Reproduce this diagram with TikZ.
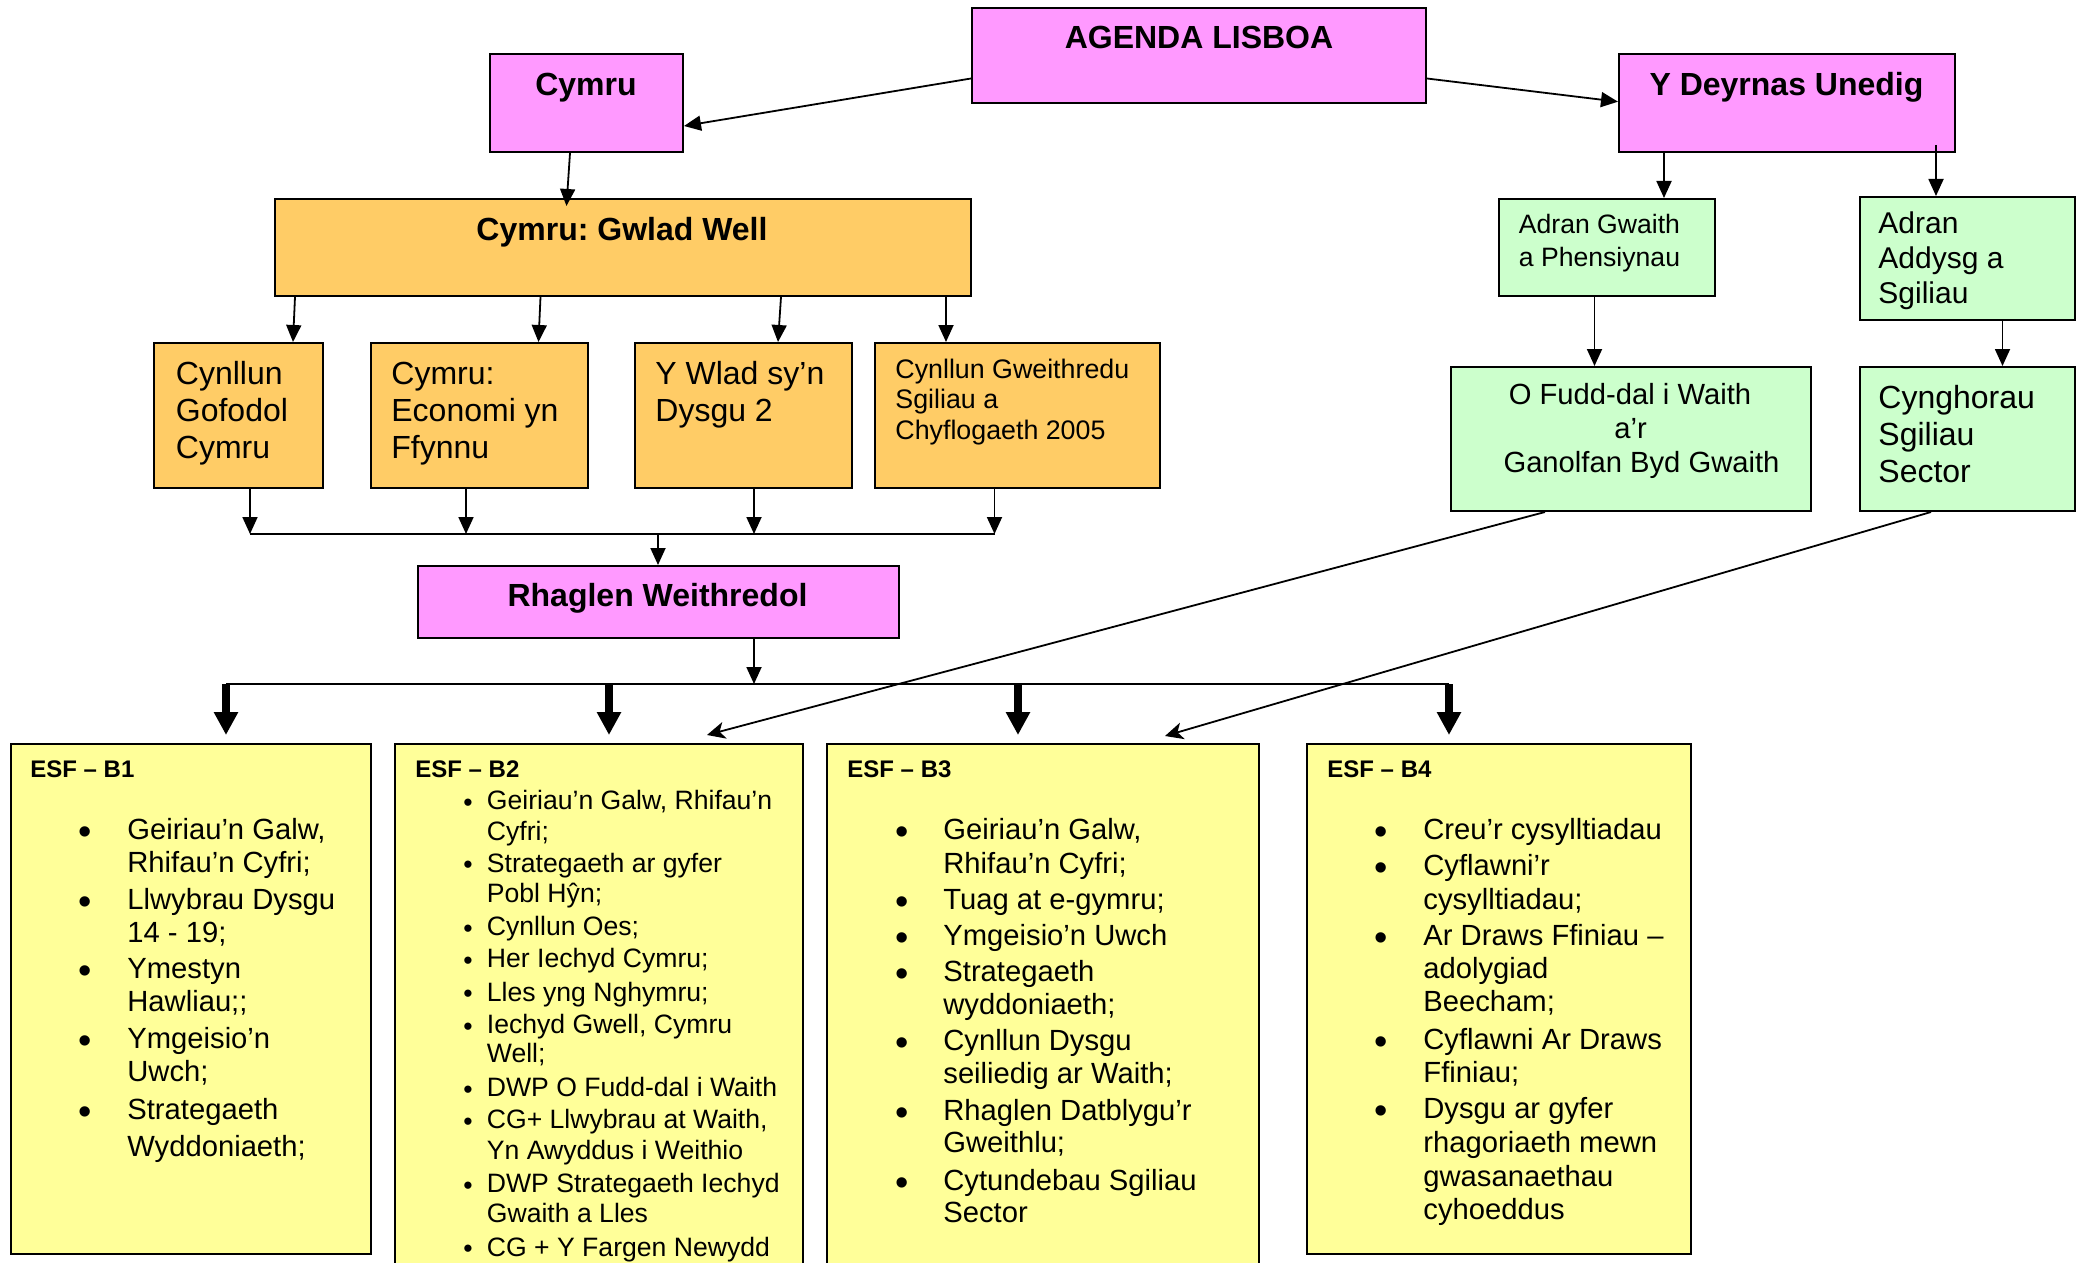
\documentclass[tikz,border=0pt]{standalone}
\usepackage{fontspec}
\setmainfont{Liberation Sans}
\usetikzlibrary{arrows.meta}
\definecolor{pinkc}{RGB}{255,153,255}
\definecolor{orangec}{RGB}{255,204,102}
\definecolor{greenc}{RGB}{204,255,204}
\definecolor{yellowc}{RGB}{255,255,153}
\newcommand\fsz[1]{\fontsize{#1}{#1}\selectfont}
\newcommand\mkbox[6]{\node[#6, minimum width={(#4-#2)*0.5pt}, minimum height={(#5-#3)*0.5pt}] (#1) at (#2,#3) {};}
\frenchspacing
\begin{document}
\frenchspacing
\begin{tikzpicture}[x=0.5pt,y=-0.5pt,
  boxc/.style={draw=black, line width=1pt, inner sep=0pt, anchor=north west},
  pinkbox/.style={boxc, fill=pinkc},
  orangebox/.style={boxc, fill=orangec},
  greenbox/.style={boxc, fill=greenc},
  yellowbox/.style={boxc, fill=yellowc},
  tb/.style={inner sep=0pt, anchor=base, font=\fsz{16}\bfseries},
  tesf/.style={inner sep=0pt, anchor=base west, font=\fsz{12}\bfseries},
  t16/.style={inner sep=0pt, anchor=base west, font=\fsz{16}},
  t15/.style={inner sep=0pt, anchor=base west, font=\fsz{15}},
  t146/.style={inner sep=0pt, anchor=base west, font=\fsz{14.6}},
  t146c/.style={inner sep=0pt, anchor=base, font=\fsz{14.6}},
  t134/.style={inner sep=0pt, anchor=base west, font=\fsz{13.4}},
  t133/.style={inner sep=0pt, anchor=base west, font=\fsz{13.3}},
  bigbul/.style={inner sep=0pt, anchor=base, font=\fsz{19}},
  smallbul/.style={inner sep=0pt, anchor=base, font=\fsz{13.3}},
  conn/.style={line width=0.9pt},
  arr/.style={conn, -{Triangle[length=8.5pt,width=7.5pt]}},
  darr/.style={conn, -{Stealth[length=9pt,width=8.5pt,inset=2.5pt]}},
  tharr/.style={line width=4pt, -{Triangle[length=11.5pt,width=11.5pt]}, shorten >=4pt}
]
\useasboundingbox (0,0) rectangle (2085,1263);

% ---------- boxes ----------
\mkbox{agenda}{971}{7}{1425}{102}{pinkbox}
\mkbox{cymru}{489}{53}{682}{151}{pinkbox}
\mkbox{ydu}{1618}{53}{1954}{151}{pinkbox}
\mkbox{gwlad}{274}{198}{970}{295}{orangebox}
\mkbox{c1}{153}{342}{322}{487}{orangebox}
\mkbox{c2}{370}{342}{587}{487}{orangebox}
\mkbox{c3}{634}{342}{851}{487}{orangebox}
\mkbox{c4}{874}{342}{1159}{487}{orangebox}
\mkbox{adranG}{1498}{198}{1714}{295}{greenbox}
\mkbox{adranA}{1859}{196}{2074}{319}{greenbox}
\mkbox{fudd}{1450}{366}{1810}{510}{greenbox}
\mkbox{cyng}{1859}{366}{2074}{510}{greenbox}
\mkbox{rhag}{417}{565}{898}{637}{pinkbox}
\mkbox{esf1}{10}{743}{370}{1253}{yellowbox}
\mkbox{esf2}{394}{743}{802}{1295}{yellowbox}
\mkbox{esf3}{826}{743}{1258}{1295}{yellowbox}
\mkbox{esf4}{1306}{743}{1690}{1253}{yellowbox}

% ---------- titles ----------
\node[tb] (tagenda) at (1199,48.5) {AGENDA LISBOA};
\node[tb] (tcymru) at (586,95.5) {Cymru};
\node[tb] (tydu) at (1786.5,95.5) {Y Deyrnas Unedig};
\node[tb] (tgwlad) at (622,241) {Cymru: Gwlad Well};
\node[tb] (trhag) at (657.5,606) {Rhaglen Weithredol};

% ---------- orange boxes text ----------
\node[t16] (c1a) at (175.5,384) {Cynllun};
\node[t16] (c1b) at (175.5,421) {Gofodol};
\node[t16] (c1c) at (175.5,458) {Cymru};
\node[t16] (c2a) at (391,384) {Cymru:};
\node[t16] (c2b) at (391,421) {Economi yn};
\node[t16] (c2c) at (391,458) {Ffynnu};
\node[t16] (c3a) at (655,384) {Y Wlad sy’n};
\node[t16] (c3b) at (655,421) {Dysgu 2};
\node[t134] (c4a) at (895,378) {Cynllun Gweithredu};
\node[t134] (c4b) at (895,408.5) {Sgiliau a};
\node[t134] (c4c) at (895,439) {Chyflogaeth 2005};

% ---------- green boxes text ----------
\node[t133] (aga) at (1518.5,234) {Adran Gwaith};
\node[t133] (agb) at (1518.5,266) {a Phensiynau};
\node[t15] (aaa) at (1878,234) {Adran};
\node[t15] (aab) at (1878,269) {Addysg a};
\node[t15] (aac) at (1878,303) {Sgiliau};
\node[t146c] (fda) at (1630,404) {O Fudd-dal i Waith};
\node[t146c] (fdb) at (1630.5,438.5) {a’r};
\node[t146c] (fdc) at (1641.5,472.5) {Ganolfan Byd Gwaith};
\node[t16] (cga) at (1878,408) {Cynghorau};
\node[t16] (cgb) at (1878,445) {Sgiliau};
\node[t16] (cgc) at (1878,482) {Sector};

% ---------- ESF titles ----------
\node[tesf] (e1t) at (30,777) {ESF – B1};
\node[tesf] (e2t) at (415,777) {ESF – B2};
\node[tesf] (e3t) at (847,777) {ESF – B3};
\node[tesf] (e4t) at (1327,777) {ESF – B4};

% ---------- ESF B1 ----------
\foreach \yy/\t [count=\i] in {839/{Geiriau’n Galw,},872.5/{Rhifau’n Cyfri;},909/{Llwybrau Dysgu},942.5/{14 - 19;},978/{Ymestyn},1011/{Hawliau;;},1048/{Ymgeisio’n},1081/{Uwch;},1119/{Strategaeth},1156/{Wyddoniaeth;}}
  \node[t146] (b1l\i) at (127,\yy) {\t};
\foreach \yy [count=\i] in {839,909,978,1048,1119}
  \node[bigbul] (b1b\i) at (85,\yy+5) {•};

% ---------- ESF B2 ----------
\foreach \yy/\t [count=\i] in {809.5/{Geiriau’n Galw, Rhifau’n},840.5/{Cyfri;},872/{Strategaeth ar gyfer},902.5/{Pobl Hŷn;},935.5/{Cynllun Oes;},967.5/{Her Iechyd Cymru;},1001/{Lles yng Nghymru;},1033.5/{Iechyd Gwell, Cymru},1062.5/{Well;},1096.5/{DWP O Fudd-dal i Waith},1128.5/{CG+ Llwybrau at Waith,},1159.5/{Yn Awyddus i Weithio},1192.5/{DWP Strategaeth Iechyd},1222.5/{Gwaith a Lles},1256/{CG + Y Fargen Newydd}}
  \node[t133] (b2l\i) at (486.5,\yy) {\t};
\foreach \yy [count=\i] in {809.5,872,935.5,967.5,1001,1033.5,1096.5,1128.5,1192.5,1256}
  \node[smallbul] (b2b\i) at (468,\yy+1.5) {•};

% ---------- ESF B3 ----------
\foreach \yy/\t [count=\i] in {839.5/{Geiriau’n Galw,},873/{Rhifau’n Cyfri;},909.5/{Tuag at e-gymru;},945/{Ymgeisio’n Uwch},981/{Strategaeth},1014/{wyddoniaeth;},1050.5/{Cynllun Dysgu},1083.5/{seiliedig ar Waith;},1120.5/{Rhaglen Datblygu’r},1152.5/{Gweithlu;},1190.5/{Cytundebau Sgiliau},1222.5/{Sector}}
  \node[t146] (b3l\i) at (943,\yy) {\t};
\foreach \yy [count=\i] in {839.5,909.5,945,981,1050.5,1120.5,1190.5}
  \node[bigbul] (b3b\i) at (902,\yy+5) {•};

% ---------- ESF B4 ----------
\foreach \yy/\t [count=\i] in {839.5/{Creu’r cysylltiadau},875.5/{Cyflawni’r},909.5/{cysylltiadau;},945/{Ar Draws Ffiniau –},978.5/{adolygiad},1011.5/{Beecham;},1049/{Cyflawni Ar Draws},1082.5/{Ffiniau;},1118.5/{Dysgu ar gyfer},1152.5/{rhagoriaeth mewn},1186.5/{gwasanaethau},1219.5/{cyhoeddus}}
  \node[t146] (b4l\i) at (1423,\yy) {\t};
\foreach \yy [count=\i] in {839.5,875.5,945,1049,1118.5}
  \node[bigbul] (b4b\i) at (1381.5,\yy+5) {•};

% ---------- connectors ----------
\draw[arr] (agenda.west |- 0,78.5) -- (cymru.east |- 0,126);
\draw[arr] (agenda.east |- 0,78.5) -- (ydu.west |- 0,101.7);
\draw[arr, shorten >=-4pt] (cymru.south -| 570,0) -- (gwlad.north -| 567,0);
\draw[arr] (gwlad.south -| 295,0) -- (c1.north -| 293,0);
\draw[arr] (gwlad.south -| 540.5,0) -- (c2.north -| 538.5,0);
\draw[arr] (gwlad.south -| 781,0) -- (c3.north -| 778,0);
\draw[arr] (gwlad.south -| 946,0) -- (c4.north -| 946,0);

\coordinate (j1) at (250,534);
\coordinate (j2) at (466,534);
\coordinate (j3) at (754,534);
\coordinate (j4) at (994.5,534);
\coordinate (jm) at (658,534);
\draw[arr] (c1.south -| j1) -- (j1);
\draw[arr] (c2.south -| j2) -- (j2);
\draw[arr] (c3.south -| j3) -- (j3);
\draw[arr] (c4.south -| j4) -- (j4);
\draw[conn] (j1) -- (j4);
\draw[arr] (jm) -- (rhag.north -| jm);

\coordinate (k0) at (754,684);
\coordinate (k1) at (226,684);
\coordinate (k2) at (609,684);
\coordinate (k3) at (1018,684);
\coordinate (k4) at (1449,684);
\draw[arr] (rhag.south -| k0) -- (k0);
\draw[conn] (k1) -- (k4);
\draw[tharr] (k1) -- (esf1.north -| k1);
\draw[tharr] (k2) -- (esf2.north -| k2);
\draw[tharr] (k3) -- (esf3.north -| k3);
\draw[tharr] (k4) -- (esf4.north -| k4);

\draw[arr] (ydu.south -| 1664,0) -- (adranG.north -| 1664,0);
\coordinate (yA) at (1936,145);
\draw[arr] (yA) -- (adranA.north -| yA);
\draw[arr] (adranG.south -| 1594.5,0) -- (fudd.north -| 1594.5,0);
\draw[arr] (adranA.south -| 2002.5,0) -- (cyng.north -| 2002.5,0);

\coordinate (e2) at (707,735);
\coordinate (e3) at (1165,736);
\draw[darr] (fudd.south -| 1545,0) -- (e2);
\draw[darr] (cyng.south -| 1931,0) -- (e3);
\end{tikzpicture}
\end{document}
